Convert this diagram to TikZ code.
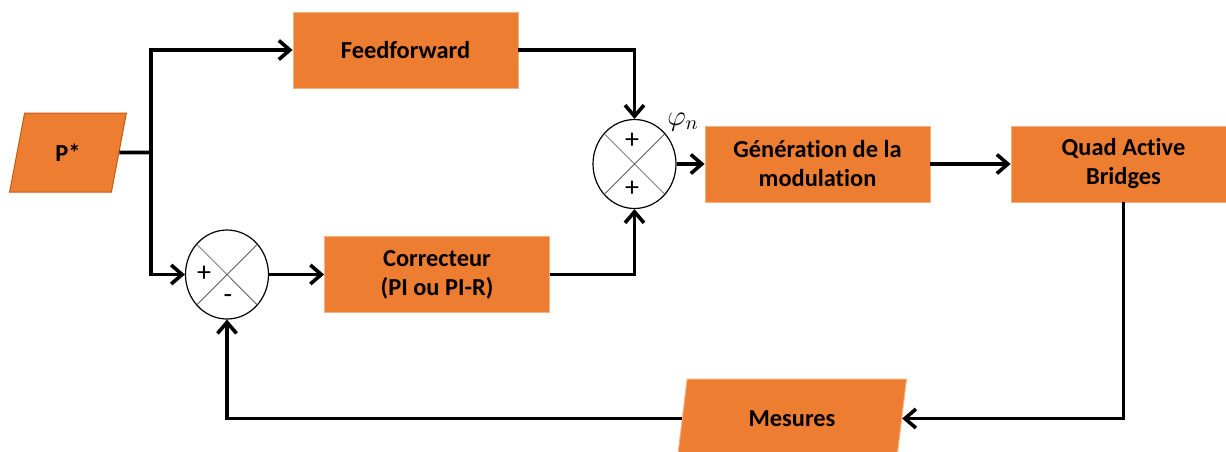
\documentclass[tikz,border=0pt]{standalone}
\usepackage{fontspec}
\setmainfont{Carlito}[Ligatures=NoCommon]
\usetikzlibrary{arrows.meta, positioning, shapes.geometric}
\definecolor{bOrange}{HTML}{ED7D31}
\definecolor{bEdge}{HTML}{F4B183}
\definecolor{bDark}{HTML}{C55A11}
\definecolor{bGrey}{HTML}{404040}

\begin{document}
\begin{tikzpicture}[
  x=0.5pt, y=-0.5pt,
  block/.style={fill=bOrange, draw=bEdge, line width=0.4pt, minimum width=112.5pt, minimum height=38pt,
                inner sep=0pt, align=center, font=\fontsize{12.2}{14.5}\selectfont\bfseries},
  datain/.style={trapezium, trapezium left angle=76, trapezium right angle=104, trapezium stretches=true,
                 fill=bOrange, draw=#1, line width=0.5pt, inner sep=0pt, font=\fontsize{12.2}{14.5}\selectfont\bfseries},
  sum/.style={ellipse, draw, line width=0.6pt, fill=white, minimum width=41.5pt, minimum height=44.5pt, inner sep=0pt},
  sign/.style={inner sep=0pt, font=\fontsize{14}{15}\selectfont},
  cross/.style={draw=bGrey, line width=0.35pt},
  link/.style={line width=1.8pt},
  arr/.style={-{Straight Barb[length=5.5pt, width=9.5pt]}, line width=1.8pt}]
  \useasboundingbox (0,0) rectangle (1226,451);
  % inputs and blocks
  \node[datain=bDark, minimum width=58.5pt, minimum height=39.5pt] (pref) at (68,152.5) {P*};
  \node[block] (ff) at (405.5,50) {Feedforward};
  \node[sum] (sum1) at (634.5,164) {};
  \node[block] (gen) at (817.5,164) {Génération de la\\ modulation};
  \node[block] (qab) at (1123.5,164) {Quad Active\\ Bridges};
  \node[sum] (sum2) at (227,274.5) {};
  \node[block] (corr) at (437,274.5) {Correcteur\\ (PI ou PI-R)};
  \node[datain=bEdge, minimum width=115pt, minimum height=39.5pt] (mes) at (792,418.5) {Mesures};
  % summing junctions
  \foreach \s in {sum1, sum2} {
    \draw[cross] (\s.45) -- (\s.225);
    \draw[cross] (\s.135) -- (\s.315);
  }
  \node[sign] (s1top) at (632,141) {+};
  \node[sign] (s1bot) at (632,189) {+};
  \node[sign] (s2in) at (204,274) {+};
  \node[sign] (s2fb) at (228,299) {-};
  \node[font=\fontsize{14}{16}\selectfont] (phin) at (683,122) {$\varphi_n$};
  % connectors
  \coordinate (split) at (151,152.5);
  \draw[link] (pref.east) -- (split);
  \draw[arr] (split) |- (ff.west);
  \draw[arr] (split) |- (sum2.west);
  \draw[arr] (ff.east) -| (sum1.north);
  \draw[arr] (corr.east) -| (sum1.south);
  \draw[arr] (sum2) -- (corr);
  \draw[arr] (sum1) -- (gen);
  \draw[arr] (gen) -- (qab);
  \draw[arr] (qab.south) |- (mes.east);
  \draw[arr] (mes.west) -| (sum2.south);
\end{tikzpicture}
\end{document}
